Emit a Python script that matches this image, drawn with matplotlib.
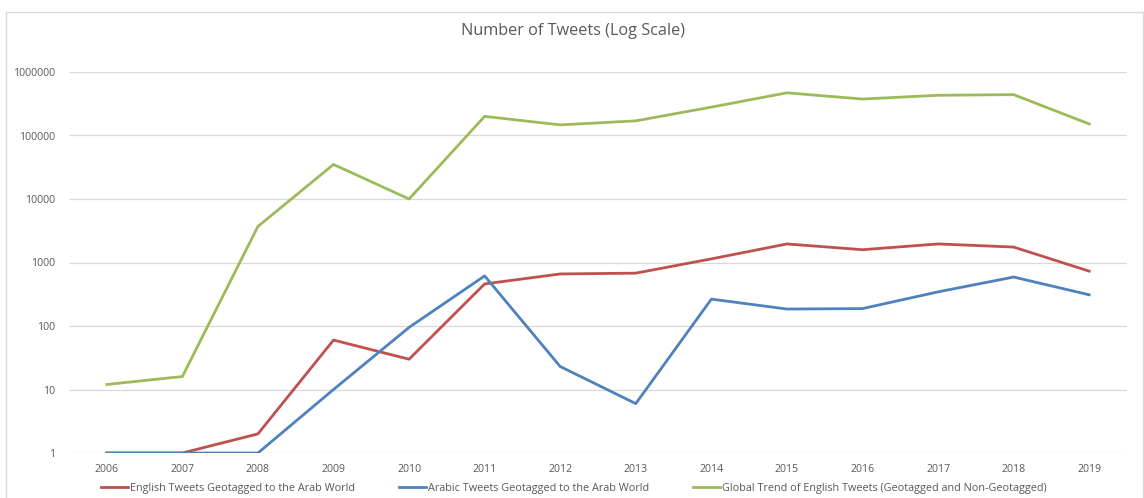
import numpy as np
import matplotlib
matplotlib.use("Agg")
import matplotlib.pyplot as plt
from matplotlib.patches import Rectangle

# Office 2007 style colours
red = "#c0504d"
blue = "#4f81bd"
green = "#9bbb59"
grey_txt = "#595959"
grid_c = "#d9d9d9"

years = [2006, 2007, 2008, 2009, 2010, 2011, 2012, 2013, 2014, 2015, 2016, 2017, 2018, 2019]
english_arab = [1, 1, 2, 60, 30, 460, 660, 680, 1140, 1960, 1590, 1960, 1750, 730]
arabic_arab = [1, 1, 1, 10, 95, 615, 23, 6, 265, 185, 188, 345, 590, 310]
global_english = [12, 16, 3700, 35000, 10000, 200000, 147000, 170000, 280000, 470000, 375000, 430000, 440000, 152000]

labels = ["English Tweets Geotagged to the Arab World",
          "Arabic Tweets Geotagged to the Arab World",
          "Global Trend of English Tweets (Geotagged and Non-Geotagged)"]
yticks = [1, 10, 100, 1000, 10000, 100000, 1000000]

plt.rcParams['font.family'] = ['Open Sans', 'DejaVu Sans']

fig = plt.figure(figsize=(11.44, 4.98), dpi=100)
ax = fig.add_axes([69/1144, 1-453/498, (1127-69)/1144, (453-72)/498])

x = np.arange(len(years))
ax.plot(x, english_arab, color=red, lw=2.0, label=labels[0])
ax.plot(x, arabic_arab, color=blue, lw=2.0, label=labels[1])
ax.plot(x, global_english, color=green, lw=2.0, label=labels[2])

ax.set_yscale('log')
ax.set_ylim(1, 1e6)
ax.set_xlim(-0.5, len(years)-0.5)
ax.set_yticks(yticks)
ax.set_yticklabels([str(v) for v in yticks])
ax.yaxis.set_minor_locator(matplotlib.ticker.NullLocator())
ax.set_xticks(x)
ax.set_xticklabels([str(y) for y in years])
ax.tick_params(axis='both', length=0, labelsize=7.6, labelcolor=grey_txt)
ax.tick_params(axis='y', pad=10)
ax.tick_params(axis='x', pad=8)
ax.grid(axis='y', color=grid_c, lw=0.9)
ax.set_axisbelow(True)
for s in ax.spines.values():
    s.set_visible(False)

fig.text(573/1144, 1-31/498, "Number of Tweets (Log Scale)", ha='center', va='center',
         fontsize=11.7, color=grey_txt)

fig.legend(loc='center', bbox_to_anchor=(574/1144, 1-488/498), ncol=3, frameon=False,
           fontsize=7.85, labelcolor=grey_txt, handlelength=2.5, handletextpad=0.2,
           columnspacing=4.0)

# outer chart border
fig.patches.append(Rectangle((6/1144, -0.05), (1143-6)/1144, 1-12/498+0.05,
                             transform=fig.transFigure, fill=False, ec=grid_c, lw=1.0))

plt.savefig("out.png", dpi=100)
